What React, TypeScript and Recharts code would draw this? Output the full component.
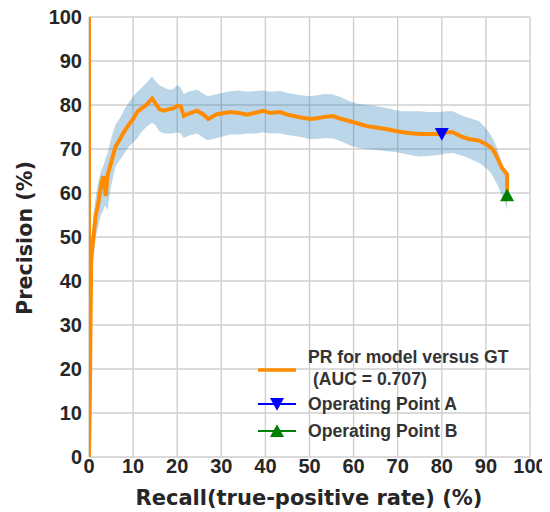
import { Area, CartesianGrid, ComposedChart, Line, Scatter, XAxis, YAxis } from 'recharts'

// PR curve for model vs GT, with a shaded confidence band and two operating points.

const recall = [
  0, 0, 0.2, 0.4, 0.5, 1.0, 1.5, 2.0, 2.7, 3.2, 3.5, 3.8, 4.2, 4.9, 6.0, 7.0, 8.0, 9.0, 10.0, 11.0,
  12.0, 13.0, 14.3, 15.0, 16.0, 17.0, 18.0, 19.0, 20.0, 20.8, 21.5, 22.5, 24.5, 26.0, 27.0, 29.0,
  32.0, 34.0, 35.8, 38.0, 39.5, 41.0, 43.3, 45.0, 47.8, 50.0, 51.7, 53.5, 55.3, 57.0, 59.2, 61.0,
  63.0, 65.0, 67.6, 69.5, 71.2, 73.0, 75.0, 77.0, 79.6, 81.0, 82.5, 84.5, 86.4, 88.5, 90.2, 91.2,
  92.0, 92.8, 93.6, 94.2, 94.8, 94.8,
]
const precision = [
  100, 0, 14, 36, 45, 50, 54.7, 57, 61.5, 63.8, 62, 59.3, 64, 66.5, 70.5, 72.2, 74, 75.5, 76.8, 78.5,
  79.3, 80, 81.5, 80.5, 79, 78.7, 79, 79.2, 79.8, 79.7, 77.5, 78, 78.7, 77.8, 76.8, 77.9, 78.4, 78.2,
  77.8, 78.3, 78.7, 78.2, 78.4, 77.8, 77.2, 76.8, 77, 77.3, 77.5, 76.9, 76.3, 75.8, 75.2, 74.9, 74.5,
  74.1, 73.8, 73.6, 73.4, 73.4, 73.4, 73.8, 73.8, 72.8, 72.2, 71.9, 71, 70.3, 69.2, 67.5, 65.8, 65,
  64.2, 59.5,
]
const bandLow = [
  null, null, 12, 33, 41, 45, 50, 52, 55, 56, 57, 57, 56, 61, 66, 67.5, 69, 70.5, 71.5, 72.5, 74, 75,
  76, 75.5, 74, 73.5, 73.5, 73.5, 73.8, 73.5, 72.5, 73, 73.5, 72.5, 72, 72.5, 73.3, 73.3, 73.5, 73.5,
  73.8, 73.5, 73.6, 73.2, 72.8, 72.2, 72.3, 72.5, 72.4, 71.8, 70.8, 70.3, 70, 69.8, 69.5, 69.3, 69,
  68.6, 68.3, 68.4, 68.7, 69, 69.1, 68.5, 67.8, 66.8, 65.5, 64.5, 63, 61.5, 59.5, 58.5, 56, 56,
]
const bandHigh = [
  null, null, 16, 39, 48, 55, 59, 62, 65, 66, 67, 68, 69, 72, 75.5, 77, 79, 80.5, 82, 83, 84, 85, 86.5,
  85.5, 84.5, 84, 83.5, 83.5, 84.5, 84, 82.5, 83, 83.5, 82.5, 82, 82.5, 83.1, 83.3, 83, 83.2, 83.3, 83,
  83.2, 82.7, 82.3, 82, 82.2, 82.5, 82.4, 81.8, 80.8, 80.3, 80, 79.8, 79.3, 78.8, 78.6, 78.6, 78.6,
  78.4, 78.4, 78.6, 78.6, 77.6, 77, 76.3, 74.5, 73, 71.5, 69.5, 67, 65, 63.5, 63,
]
const ticks = [0, 10, 20, 30, 40, 50, 60, 70, 80, 90, 100]
const pointA = [{ recall: 80, precision: 73.4 }]
const pointB = [{ recall: 94.8, precision: 59.5 }]

const data = recall.map((r, i) => ({
  recall: r,
  precision: precision[i],
  band: bandLow[i] == null ? null : [bandLow[i], bandHigh[i]],
}))

const FONT = '"Liberation Sans", Arial, sans-serif'
const LABEL_FONT = '"DejaVu Sans", sans-serif'
const TEXT = '#262626'
const ORANGE = '#ff8c00'
const BLUE = '#0000ff'
const GREEN = '#008000'

function triDown(cx: number, cy: number, s: number) {
  return `M${cx - s},${cy - s * 0.85} L${cx + s},${cy - s * 0.85} L${cx},${cy + s * 0.95} Z`
}
function triUp(cx: number, cy: number, s: number) {
  return `M${cx - s},${cy + s * 0.85} L${cx + s},${cy + s * 0.85} L${cx},${cy - s * 0.95} Z`
}

function XTick({ x, y, payload }: any) {
  return (
    <text x={x} y={y + 8} textAnchor="middle" fontSize={20} fontWeight="bold" fontFamily={FONT} fill={TEXT}>
      {payload.value}
    </text>
  )
}

function YTick({ x, y, payload }: any) {
  return (
    <text x={x + 1} y={y + 7} textAnchor="end" fontSize={20} fontWeight="bold" fontFamily={FONT} fill={TEXT}>
      {payload.value}
    </text>
  )
}

function YLabel() {
  return (
    <text
      x={17}
      y={230}
      transform="rotate(-90, 17, 230)"
      textAnchor="middle"
      dominantBaseline="central"
      fontSize={20.7}
      fontWeight="bold"
      fontFamily={LABEL_FONT}
      fill={TEXT}
    >
      Precision (%)
    </text>
  )
}

function XLabel() {
  return (
    <text x={301} y={497} textAnchor="middle" fontSize={21} fontWeight="bold" fontFamily={LABEL_FONT} fill={TEXT}>
      Recall(true-positive rate) (%)
    </text>
  )
}

// legend drawn by hand so it can sit inside the plot, bottom right
function LegendBox() {
  const textProps = { fontSize: 17.6, fontWeight: 'bold' as const, fontFamily: FONT, fill: '#333' }
  return (
    <svg width={290} height={100} style={{ position: 'absolute', left: 250, top: 340 }}>
      <line x1={0} x2={38} y1={22} y2={22} stroke={ORANGE} strokeWidth={3.5} />
      <text x={50} y={15} {...textProps}>PR for model versus GT</text>
      <text x={50} y={37} {...textProps} style={{ whiteSpace: 'pre' }}>{' (AUC = 0.707)'}</text>
      <line x1={0} x2={38} y1={56} y2={56} stroke={BLUE} strokeWidth={2} />
      <path d={triDown(19, 56, 7)} fill={BLUE} />
      <text x={50} y={62} {...textProps}>Operating Point A</text>
      <line x1={0} x2={38} y1={83} y2={83} stroke={GREEN} strokeWidth={2} />
      <path d={triUp(19, 83, 7)} fill={GREEN} />
      <text x={50} y={89} {...textProps}>Operating Point B</text>
    </svg>
  )
}

export default function App() {
  return (
    <div style={{ position: 'relative', width: 542, height: 504 }}>
      <ComposedChart
        width={542}
        height={504}
        data={data}
        margin={{ top: 9, right: 20, bottom: 0, left: 0 }}
      >
        <CartesianGrid stroke="#cfcfcf" strokeWidth={1.4} />
        <XAxis
          type="number"
          dataKey="recall"
          domain={[0, 100]}
          ticks={ticks}
          allowDataOverflow
          axisLine={false}
          tickLine={false}
          tick={<XTick />}
          height={55}
          label={<XLabel />}
        />
        <YAxis
          type="number"
          domain={[0, 100]}
          ticks={ticks}
          allowDataOverflow
          axisLine={false}
          tickLine={false}
          tick={<YTick />}
          width={81}
          label={<YLabel />}
        />
        <Area
          type="linear"
          dataKey="band"
          stroke="none"
          fill="#1f77b4"
          fillOpacity={0.3}
          isAnimationActive={false}
        />
        <Line
          type="linear"
          dataKey="precision"
          stroke={ORANGE}
          strokeWidth={4}
          dot={false}
          activeDot={false}
          isAnimationActive={false}
        />
        <Scatter
          data={pointA}
          dataKey="precision"
          fill={BLUE}
          isAnimationActive={false}
          shape={(p: any) => <path d={triDown(p.cx, p.cy, 7)} fill={BLUE} />}
        />
        <Scatter
          data={pointB}
          dataKey="precision"
          fill={GREEN}
          isAnimationActive={false}
          shape={(p: any) => <path d={triUp(p.cx, p.cy, 7)} fill={GREEN} />}
        />
      </ComposedChart>
      <LegendBox />
    </div>
  )
}
